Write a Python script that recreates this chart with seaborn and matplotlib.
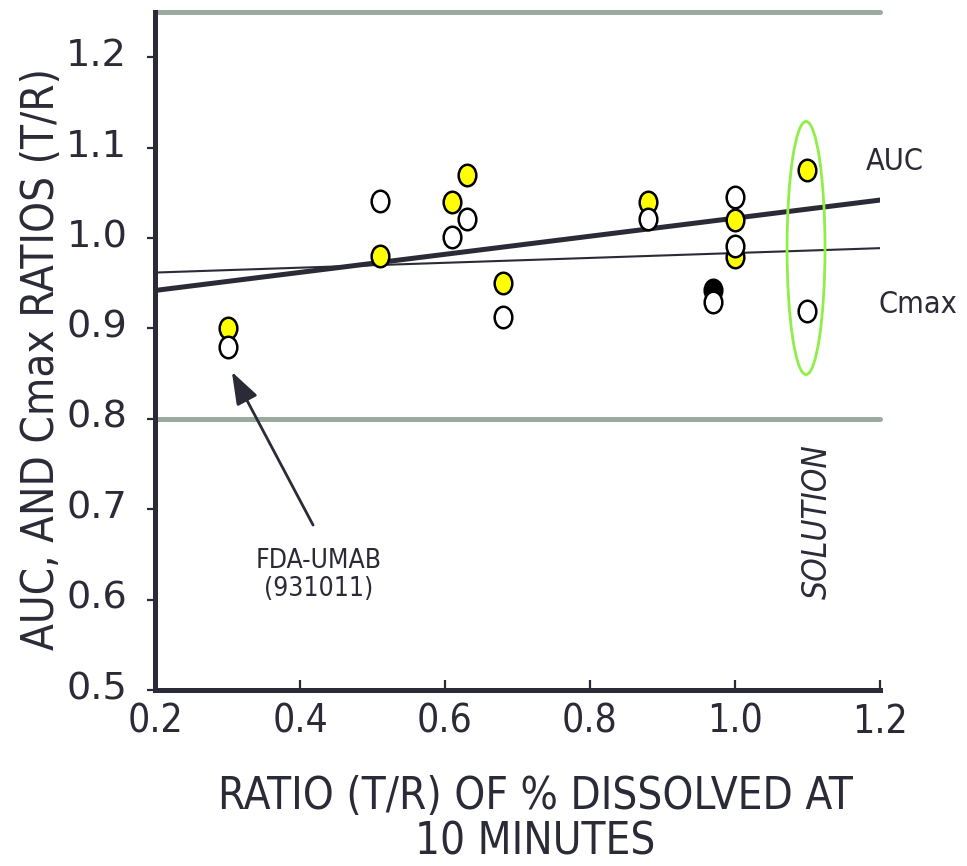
import numpy as np
import matplotlib
matplotlib.use("Agg")
import matplotlib.pyplot as plt
from matplotlib.path import Path
from matplotlib.transforms import Affine2D, ScaledTranslation
from matplotlib.patches import Ellipse
import seaborn as sns

# ---- data -------------------------------------------------------------
# AUC ratio (T/R) against ratio (T/R) of % dissolved at 10 minutes
auc_dissolution = [0.30, 0.51, 0.61, 0.63, 0.68, 0.88, 1.00, 1.00, 1.10]
auc_ratio = [0.900, 0.980, 1.040, 1.070, 0.950, 1.040, 1.020, 0.979, 1.075]

# one AUC result shown as a black marker
auc_black_dissolution = [0.97]
auc_black_ratio = [0.942]

# Cmax ratio (T/R)
cmax_dissolution = [0.30, 0.51, 0.61, 0.63, 0.68, 0.88, 1.00, 1.00, 0.97, 1.10]
cmax_ratio = [0.879, 1.041, 1.001, 1.021, 0.913, 1.021, 1.045, 0.991, 0.929, 0.919]

# fitted regression lines: slope, intercept
auc_fit = (0.100, 0.922)
cmax_fit = (0.027, 0.9564)

# bioequivalence limits
be_limits = [0.80, 1.25]

x_ticks = [0.2, 0.4, 0.6, 0.8, 1.0, 1.2]
x_tick_labels = ["0.2", "0.4", "0.6", "0.8", "1.0", "1.2"]
y_ticks = [0.5, 0.6, 0.7, 0.8, 0.9, 1.0, 1.1, 1.2]
y_tick_labels = ["0.5", "0.6", "0.7", "0.8", "0.9", "1.0", "1.1", "1.2"]

# ---- style ------------------------------------------------------------
sns.set_theme(style="white")
plt.rcParams["font.family"] = ["DejaVu Sans"]

INK = "#2b2b38"
LIMIT_COLOR = "#9aaa9f"
RING_COLOR = "#90ee48"
NARROW = dict(fontfamily="DejaVu Sans", fontstretch="condensed")

fig = plt.figure(figsize=(9.67, 8.66), dpi=100)
ax = fig.add_axes([0.1603, 0.2032, 0.7497, 0.7829])

# slightly tall elliptical markers
oval = Path.unit_circle().transformed(Affine2D().scale(0.82, 1.0))

# bioequivalence limit lines
for lim in be_limits:
    ax.axhline(lim, color=LIMIT_COLOR, lw=3.6, zorder=1, clip_on=False)

# regression lines
fit_x = np.array([x_ticks[0], x_ticks[-1]])
sns.lineplot(x=fit_x, y=auc_fit[0] * fit_x + auc_fit[1], color=INK, lw=3.6, ax=ax, zorder=2)
sns.lineplot(x=fit_x, y=cmax_fit[0] * fit_x + cmax_fit[1], color=INK, lw=1.5, ax=ax, zorder=2)

# points
mk = dict(marker=oval, s=240, edgecolor="black", linewidth=1.8, ax=ax)
sns.scatterplot(x=auc_black_dissolution, y=auc_black_ratio, color="black", zorder=3, **mk)
sns.scatterplot(x=auc_dissolution, y=auc_ratio, color="#ffff00", zorder=4, **mk)
sns.scatterplot(x=cmax_dissolution, y=cmax_ratio, color="white", zorder=5, **mk)

# ring around the solution results
ax.add_patch(Ellipse((1.098, 0.989), 0.0524, 0.28, fill=False,
                     edgecolor=RING_COLOR, lw=2.0, zorder=6))

ax.set_xlim(0.2, 1.2)
ax.set_ylim(0.5, 1.25)

# axes styling
for side in ("top", "right"):
    ax.spines[side].set_visible(False)
for side in ("left", "bottom"):
    ax.spines[side].set_color(INK)
    ax.spines[side].set_linewidth(3.6)

ax.set_xticks(x_ticks)
ax.set_xticklabels(x_tick_labels, fontsize=28, color=INK, **NARROW)
ax.set_yticks(y_ticks)
ax.set_yticklabels(y_tick_labels, fontfamily="DejaVu Sans", fontsize=27.5, color=INK)
ax.tick_params(axis="x", direction="in", length=7, width=1.6, color=INK, pad=9, bottom=True)
ax.tick_params(axis="y", direction="out", length=6, width=1.6, color=INK, pad=14, left=True)

# nudge the y tick labels up a little
lift = ScaledTranslation(0, 5 / 100, fig.dpi_scale_trans)
for lab in ax.get_yticklabels():
    lab.set_transform(lab.get_transform() + lift)

# text annotations
ax.text(1.221, 1.085, "AUC", fontsize=22, color=INK, ha="center", va="center",
        clip_on=False, **NARROW)
ax.text(1.252, 0.927, "Cmax", fontsize=22, color=INK, ha="center", va="center",
        clip_on=False, **NARROW)
ax.text(1.114, 0.686, "SOLUTION", fontsize=24, style="italic", color=INK,
        rotation=90, ha="center", va="center", **NARROW)
ax.text(0.426, 0.627, "FDA-UMAB\n(931011)", fontsize=19, color=INK,
        ha="center", va="center", linespacing=1.1, **NARROW)
ax.annotate("", xy=(0.306, 0.852), xytext=(0.418, 0.6825),
            arrowprops=dict(arrowstyle="-|>,head_length=0.9,head_width=0.32",
                            color=INK, lw=2.0, mutation_scale=22, shrinkA=0, shrinkB=0))

# axis titles
fig.text(535 / 967, 1 - 819 / 866, "RATIO (T/R) OF % DISSOLVED AT\n10 MINUTES",
         fontsize=31.5, color=INK, ha="center", va="center", linespacing=1.08, **NARROW)
fig.text(42 / 967, 1 - 359 / 866, "AUC, AND Cmax RATIOS (T/R)",
         fontsize=31.5, color=INK, ha="center", va="center", rotation=90, **NARROW)

fig.savefig("out.png", dpi=100, facecolor="white")
